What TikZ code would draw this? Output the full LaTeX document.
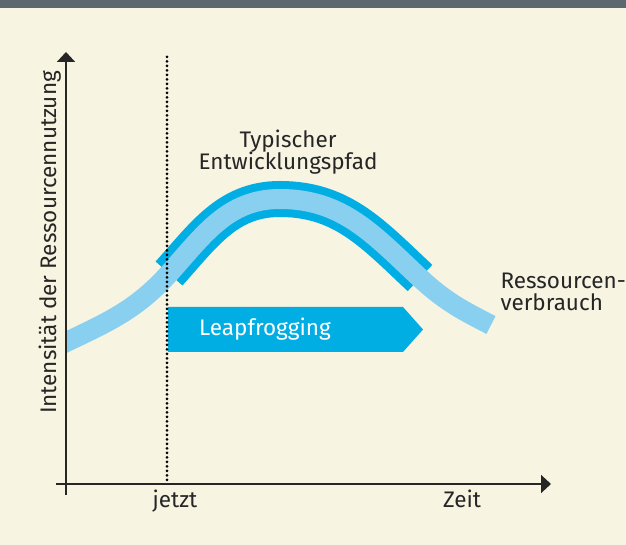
\documentclass[tikz,border=0pt]{standalone}
\usepackage{fontspec}
\setmainfont{Fira Sans}
\usetikzlibrary{arrows.meta}

\definecolor{paper}{HTML}{F7F4E2}
\definecolor{topbar}{HTML}{5C6770}
\definecolor{inkgrey}{HTML}{262626}
\definecolor{lightblue}{HTML}{88CFF0}
\definecolor{deepblue}{HTML}{00AEE4}

\begin{document}
\begin{tikzpicture}[x=1pt, y=1pt,
    axis/.style={draw=inkgrey, line width=1.8pt, -{Triangle[length=10pt, width=18pt]}},
    label/.style={text=inkgrey, font=\fontsize{22.5}{22.5}\selectfont},
    nowline/.style={draw=black, line width=3pt, line cap=round, dash pattern=on 0pt off 4.5pt}]
    % Background and top bar
    \fill[paper] (0,0) rectangle (626,545);
    \fill[topbar] (0,537) rectangle (626,545);
    \useasboundingbox (0,0) rectangle (626,545);

    % Points on the curves
    \coordinate (O) at (66,61);
    \coordinate (start) at (56,198);
    \coordinate (branch) at (169,271.5);
    \coordinate (top) at (280,346);
    \coordinate (rejoin) at (420,267);
    \coordinate (finish) at (491,220);

    % Typical development path (dark band)
    \draw[deepblue, line width=36pt] (branch) to[out=48,in=180] (top) to[out=0,in=137] (rejoin);

    % Resource consumption (light band)
    \begin{scope}
        \clip (66,0) rectangle (626,545);
        \draw[lightblue, line width=20pt] (start) to[out=26,in=228] (branch) to[out=48,in=180] (top)
            to[out=0,in=137] (rejoin) to[out=-43,in=153] (finish);
    \end{scope}

    % Leapfrogging arrow
    \fill[deepblue] (168,193) -- (403,193) -- (423,215.5) -- (403,238) -- (168,238) -- cycle;
    \node[text=white, font=\fontsize{22.5}{25}\selectfont] (leap) at (265,216) {Leapfrogging};

    % Today
    \coordinate (nowtop) at (167,488);
    \coordinate (now) at (167,61);
    \draw[nowline] (nowtop) -- (now);

    % Axes
    \coordinate (xstart) at (56,61);
    \coordinate (xend) at (551,61);
    \coordinate (ystart) at (66,50);
    \coordinate (yend) at (66,493);
    \draw[axis] (xstart) -- (xend);
    \draw[axis] (ystart) -- (yend);

    % Labels
    \node[label, anchor=base] (jetzt) at (175,37) {jetzt};
    \node[label, anchor=base] (zeit) at (462,37) {Zeit};
    \node[label, anchor=base, rotate=90] (intens) at (56,302.5) {Intensität der Ressourcennutzung};
    \node[label, align=center, anchor=base] (pfad) at (288,375) {Typischer\\Entwicklungspfad};
    \node[label, align=left, anchor=base west] (verbr) at (497,234) {Ressourcen-\\verbrauch};
\end{tikzpicture}
\end{document}
